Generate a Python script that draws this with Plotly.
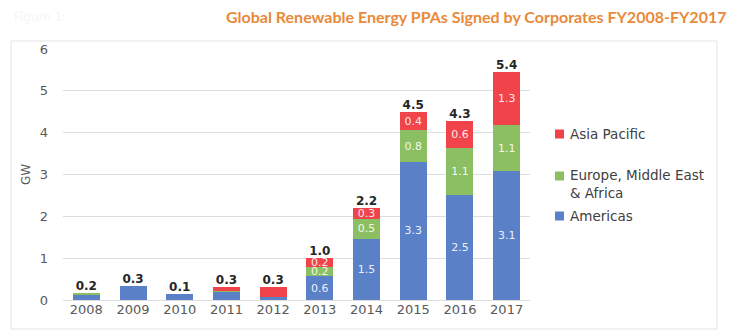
import plotly.graph_objects as go

years = ['2008', '2009', '2010', '2011', '2012', '2013', '2014', '2015', '2016', '2017']
americas = [0.11, 0.33, 0.14, 0.20, 0.07, 0.57, 1.46, 3.30, 2.50, 3.08]
emea = [0.06, 0.00, 0.00, 0.01, 0.00, 0.22, 0.48, 0.76, 1.13, 1.10]
apac = [0.00, 0.00, 0.00, 0.10, 0.24, 0.22, 0.27, 0.43, 0.64, 1.26]
show_inner = [False, False, False, False, False, True, True, True, True, True]
y_ticks = [0, 1, 2, 3, 4, 5, 6]

totals = [a + e + p for a, e, p in zip(americas, emea, apac)]

BLUE = '#5a80c8'
GREEN = '#8cbf62'
RED = '#f1434a'
FONT = 'DejaVu Sans'

# plot area in pixels (for placing legend/title items outside the axes)
L, R, T, B = 63, 530, 49, 300


def px(x):
    return (x - L) / (R - L)


def py(y):
    return (B - y) / (B - T)


def inner(vals):
    return [f'{v:.1f}' if s else '' for v, s in zip(vals, show_inner)]


fig = go.Figure()
series = [
    ('Americas', americas, BLUE),
    ('Europe, Middle East<br>& Africa', emea, GREEN),
    ('Asia Pacific', apac, RED),
]
for name, vals, col in series:
    fig.add_trace(go.Bar(
        x=years, y=vals, name=name, marker=dict(color=col, line=dict(width=0)),
        text=inner(vals), textposition='inside', insidetextanchor='middle',
        textangle=0, constraintext='none', showlegend=False,
        textfont=dict(family=FONT, size=11, color='rgba(255,255,255,0.9)'),
    ))

fig.add_trace(go.Scatter(
    x=years, y=totals, mode='text', text=[f'{t:.1f}' for t in totals],
    textposition='top center', cliponaxis=False, showlegend=False,
    textfont=dict(family=FONT, size=12, color='#262626', weight='bold'),
))

# legend (drawn manually for exact spacing)
legend_items = [
    ('Asia Pacific', RED, 134, 134),
    ('Europe, Middle East<br>& Africa', GREEN, 176, 183.5),
    ('Americas', BLUE, 216, 216),
]
shapes = [dict(
    type='rect', xref='paper', yref='paper',
    x0=px(11), x1=px(717), y0=py(329), y1=py(41),
    line=dict(color='#e3e3e3', width=1), layer='below',
)]
annotations = [
    dict(
        text='Global Renewable Energy PPAs Signed by Corporates FY2008-FY2017',
        xref='paper', yref='paper', x=px(476), y=py(17),
        xanchor='center', yanchor='middle', showarrow=False,
        font=dict(family='Lato', size=16, color='#e88a3a', weight='bold'),
    ),
    dict(
        text='Figure 1:', xref='paper', yref='paper', x=px(12), y=py(17),
        xanchor='left', yanchor='middle', showarrow=False,
        font=dict(family=FONT, size=12, color='#f6f6f6'),
    ),
]
for label, col, ym, ytext in legend_items:
    shapes.append(dict(
        type='rect', xref='paper', yref='paper',
        x0=px(555), x1=px(564), y0=py(ym + 4.5), y1=py(ym - 4.5),
        fillcolor=col, line=dict(width=0),
    ))
    annotations.append(dict(
        text=label, xref='paper', yref='paper', x=px(568), y=py(ytext),
        xanchor='left', yanchor='middle', align='left', showarrow=False,
        font=dict(family=FONT, size=13.5, color='#404040'),
    ))

fig.update_layout(
    width=739, height=332,
    margin=dict(l=L, r=739 - R, t=T, b=332 - B),
    barmode='stack', bargap=0.42, showlegend=False,
    plot_bgcolor='white', paper_bgcolor='white',
    font=dict(family=FONT, size=12, color='#595959'),
    xaxis=dict(
        showgrid=False, showline=False, ticks='',
        tickfont=dict(family=FONT, size=13, color='#595959'),
    ),
    yaxis=dict(
        range=[0, 6], tickvals=y_ticks, showgrid=True, gridcolor='#dedede',
        gridwidth=1, zeroline=True, zerolinecolor='#dedede', zerolinewidth=1,
        ticklabelstandoff=14,
        tickfont=dict(family=FONT, size=13, color='#595959'),
        title=dict(text='GW', font=dict(family=FONT, size=12, color='#595959'), standoff=6),
    ),
    shapes=shapes,
    annotations=annotations,
)

fig.write_html('out.html')
